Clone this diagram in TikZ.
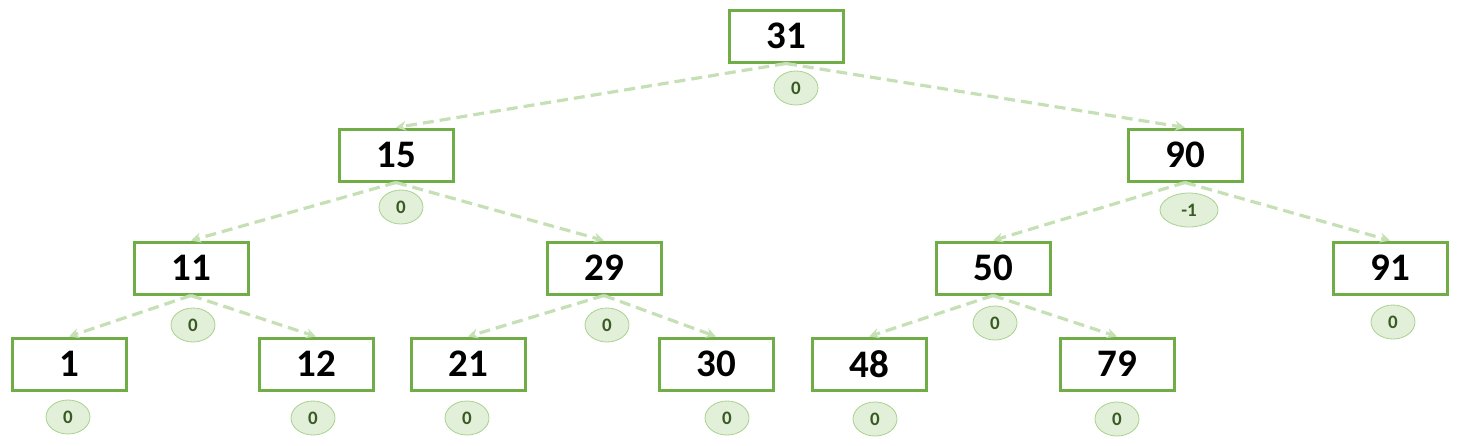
\documentclass[tikz,border=0pt]{standalone}
\usepackage{fontspec}
\setmainfont{Carlito}
\usetikzlibrary{arrows.meta,shapes.geometric}
\definecolor{boxgreen}{HTML}{70AD47}
\definecolor{edgegreen}{HTML}{C5E0B4}
\definecolor{ellfill}{HTML}{E2F0D9}
\definecolor{elldraw}{HTML}{A9D18E}
\definecolor{balfont}{HTML}{3A5A24}
\tikzset{
  keybox/.style={draw=boxgreen, line width=3pt, fill=white, minimum width=114pt, minimum height=52pt, inner sep=0pt, font=\fontsize{39}{40}\selectfont\bfseries},
  bal/.style={ellipse, draw=elldraw, line width=0.8pt, fill=ellfill, minimum width=44pt, minimum height=34pt, inner sep=0pt, font=\fontsize{19}{20}\selectfont\bfseries, text=balfont},
  edge/.style={draw=edgegreen, line width=3.2pt, dash pattern=on 11pt off 6pt, -{Stealth[length=10pt,width=10pt]}}
}
\begin{document}
\begin{tikzpicture}[x=1pt,y=-1pt]
\useasboundingbox (0,0) rectangle (1464,445);
% key boxes
\node[keybox] (n31) at (786,36) {31};
\node[keybox] (n15) at (396,155) {15};
\node[keybox] (n90) at (1185,155) {90};
\node[keybox] (n11) at (191,268) {11};
\node[keybox] (n29) at (604,268) {29};
\node[keybox] (n50) at (993,268) {50};
\node[keybox] (n91) at (1390,268) {91};
\node[keybox] (n1) at (69,364) {1};
\node[keybox] (n12) at (316,364) {12};
\node[keybox] (n21) at (468,364) {21};
\node[keybox] (n30) at (716,364) {30};
\node[keybox] (n48) at (869,364) {48};
\node[keybox] (n79) at (1117,364) {79};
% edges
\draw[edge] (n31.south) -- (n15.north);
\draw[edge] (n31.south) -- (n90.north);
\draw[edge] (n15.south) -- (n11.north);
\draw[edge] (n15.south) -- (n29.north);
\draw[edge] (n90.south) -- (n50.north);
\draw[edge] (n90.south) -- (n91.north);
\draw[edge] (n11.south) -- (n1.north);
\draw[edge] (n11.south) -- (n12.north);
\draw[edge] (n29.south) -- (n21.north);
\draw[edge] (n29.south) -- (n30.north);
\draw[edge] (n50.south) -- (n48.north);
\draw[edge] (n50.south) -- (n79.north);
% balance factors
\node[bal] (b31) at (796,88) {0};
\node[bal] (b15) at (401,207) {0};
\node[bal, minimum width=58pt] (b90) at (1189,210) {-1};
\node[bal] (b11) at (193,325) {0};
\node[bal] (b29) at (607,325) {0};
\node[bal] (b50) at (995,323) {0};
\node[bal] (b91) at (1393,322) {0};
\node[bal] (b1) at (68,417) {0};
\node[bal] (b12) at (313,418) {0};
\node[bal] (b21) at (467,418) {0};
\node[bal] (b30) at (727,418) {0};
\node[bal] (b48) at (875,419) {0};
\node[bal] (b79) at (1117,419) {0};
\end{tikzpicture}
\end{document}
